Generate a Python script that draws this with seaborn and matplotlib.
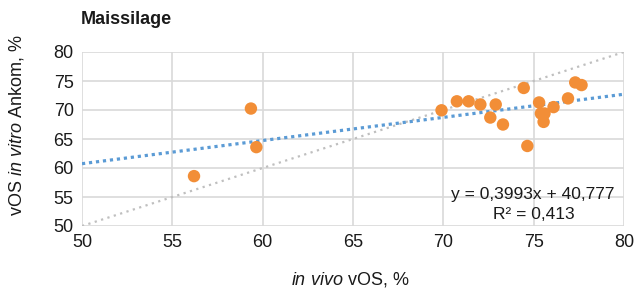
import matplotlib
matplotlib.use("Agg")
import matplotlib.pyplot as plt
import seaborn as sns
import numpy as np
import pandas as pd

# Data
in_vivo = [56.2, 59.35, 59.65, 69.9, 70.75, 71.4, 72.05, 72.9, 72.6, 73.3, 74.45, 74.65,
           75.3, 75.4, 75.6, 75.55, 76.1, 76.9, 77.3, 77.65]
in_vitro = [58.6, 70.25, 63.6, 69.95, 71.5, 71.5, 70.95, 70.95, 68.7, 67.5, 73.8, 63.8,
            71.3, 69.4, 69.4, 67.95, 70.5, 72.0, 74.75, 74.3]
trend_slope = 0.3993
trend_intercept = 40.777
r_squared = 0.413
x_ticks = [50, 55, 60, 65, 70, 75, 80]
y_ticks = [50, 55, 60, 65, 70, 75, 80]

sns.set_theme(style="white")
fam = ['Liberation Sans Narrow', 'Liberation Sans', 'DejaVu Sans']
plt.rcParams['font.family'] = fam
plt.rcParams['mathtext.fontset'] = 'custom'
plt.rcParams['mathtext.rm'] = 'Liberation Sans'
plt.rcParams['mathtext.it'] = 'Liberation Sans:italic'

df = pd.DataFrame({"x": in_vivo, "y": in_vitro})

fig = plt.figure(figsize=(6.41, 2.93), dpi=100)
ax = fig.add_axes([82/641, 1-226/293, (624-82)/641, (226-52)/293])

# 1:1 line
ax.plot([50, 80], [50, 80], linestyle=(0, (1, 2)), color="#bfbfbf", linewidth=1.6, zorder=1)
# trend line
xs = np.array([50, 80])
ax.plot(xs, trend_slope*xs + trend_intercept, linestyle=(0, (1, 1.2)), color="#5b9bd5",
        linewidth=2.3, zorder=2)

sns.scatterplot(data=df, x="x", y="y", ax=ax, color="#f28e37", s=80, edgecolor="none", zorder=3)

ax.set_xlim(50, 80)
ax.set_ylim(50, 80)
ax.set_xticks(x_ticks)
ax.set_yticks(y_ticks)
ax.grid(True, color="#d9d9d9", linewidth=1.2)
ax.set_axisbelow(True)
for s in ax.spines.values():
    s.set_visible(False)
ax.tick_params(axis="both", labelsize=13, length=0, pad=6, colors="#1a1a1a")

ax.set_xlabel(r"$\mathit{in\ vivo}$ vOS, %", fontsize=13, color="#1a1a1a")
ax.set_ylabel(r"vOS $\mathit{in\ vitro}$ Ankom, %", fontsize=13, color="#1a1a1a")
ax.xaxis.set_label_coords((350-82)/542, -(270-226)/174)
ax.yaxis.set_label_coords((26-82)/542, (226-125)/174)

fig.text(81/641, 1-19/293, "Maissilage", fontsize=13, fontweight="bold", ha="left",
         va="center", color="#1a1a1a")

ax.text(79.5, 55.5, "y = 0,3993x + 40,777", fontsize=12.5, ha="right", va="center", color="#1a1a1a")
ax.text(75.0, 51.9, "R² = 0,413", fontsize=12.5, ha="center", va="center", color="#1a1a1a")

fig.savefig("out.png", dpi=100)
